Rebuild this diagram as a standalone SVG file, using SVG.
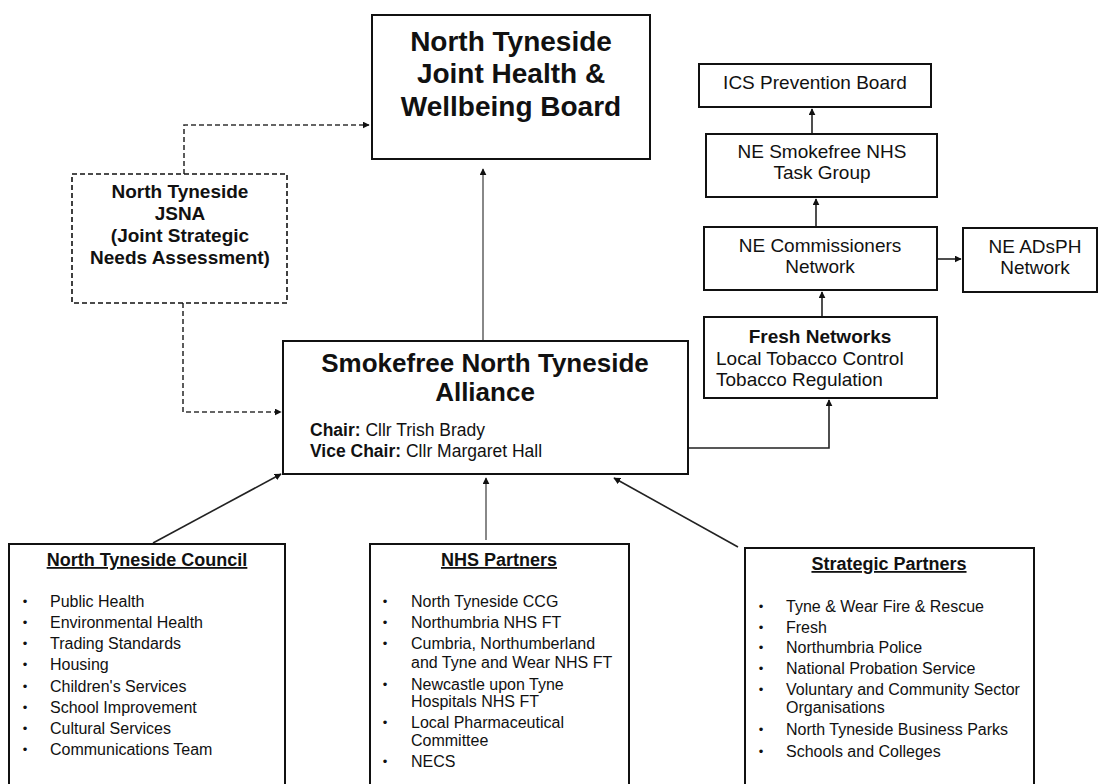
<svg xmlns="http://www.w3.org/2000/svg" width="1099" height="784" viewBox="0 0 1099 784">
<defs>
<style>
.box{fill:#fff;stroke:#111;stroke-width:2}
.dbox{fill:#fff;stroke:#111;stroke-width:1.6;stroke-dasharray:5,3}
text{font-family:"Liberation Sans",Arial,sans-serif;fill:#111}
.b{font-weight:bold}
.c{text-anchor:middle}
.t28{font-size:28px}
.t26{font-size:26px}
.t19{font-size:19px}
.t18{font-size:18px}
.t17{font-size:17.5px}
.li{font-size:16px}
.bu{font-size:13px;text-anchor:middle}
.conn{fill:none;stroke:#222;stroke-width:1.6}
.gray{fill:none;stroke:#888;stroke-width:2}
.dash{fill:none;stroke:#333;stroke-width:1.6;stroke-dasharray:5,3}
</style>
<marker id="ah" viewBox="0 0 10 10" refX="9" refY="5" markerWidth="7" markerHeight="7" markerUnits="userSpaceOnUse" orient="auto">
<path d="M0,0 L10,5 L0,10 z" fill="#111"/>
</marker>
</defs>

<g id="connectors">
<path class="gray" d="M483,341 L483,169" marker-end="url(#ah)"/>
<path class="dash" d="M184,174 L184,125 L369,125" marker-end="url(#ah)"/>
<path class="dash" d="M183,303 L183,412 L281,412" marker-end="url(#ah)"/>
<path class="conn" d="M812,134 L812,109" marker-end="url(#ah)"/>
<path class="conn" d="M816,227 L816,199" marker-end="url(#ah)"/>
<path class="conn" d="M822,317 L822,292" marker-end="url(#ah)"/>
<path class="conn" d="M937,259 L961,259" marker-end="url(#ah)"/>
<path class="conn" d="M688,448 L829,448 L829,400" marker-end="url(#ah)"/>
<path class="conn" d="M153,543 L281,474" marker-end="url(#ah)"/>
<path class="gray" d="M486,540 L486,478" marker-end="url(#ah)"/>
<path class="conn" d="M738,547 L614,478" marker-end="url(#ah)"/>
</g>

<g id="hwb">
<rect class="box" x="372" y="15" width="278" height="144"/>
<text class="b c t28" x="511" y="51">North Tyneside</text>
<text class="b c t28" x="511" y="83">Joint Health &amp;</text>
<text class="b c t28" x="511" y="116">Wellbeing Board</text>
</g>

<g id="jsna">
<rect class="dbox" x="72" y="174" width="215" height="129"/>
<text class="b c t19" x="180" y="198">North Tyneside</text>
<text class="b c t19" x="180" y="220">JSNA</text>
<text class="b c t19" x="180" y="242">(Joint Strategic</text>
<text class="b c t19" x="180" y="264">Needs Assessment)</text>
</g>

<g id="alliance">
<rect class="box" x="283" y="341" width="405" height="133"/>
<text class="b c t26" x="485" y="372">Smokefree North Tyneside</text>
<text class="b c t26" x="485" y="401">Alliance</text>
<text class="t17" x="310" y="436"><tspan class="b">Chair:</tspan> Cllr Trish Brady</text>
<text class="t17" x="310" y="457"><tspan class="b">Vice Chair:</tspan> Cllr Margaret Hall</text>
</g>

<g id="ics">
<rect class="box" x="699" y="64" width="232" height="43"/>
<text class="c t19" x="815" y="89">ICS Prevention Board</text>
</g>

<g id="taskgroup">
<rect class="box" x="706" y="134" width="231" height="63"/>
<text class="c t19" x="822" y="158">NE Smokefree NHS</text>
<text class="c t19" x="822" y="179">Task Group</text>
</g>

<g id="commissioners">
<rect class="box" x="704" y="227" width="233" height="63"/>
<text class="c t19" x="820" y="252">NE Commissioners</text>
<text class="c t19" x="820" y="273">Network</text>
</g>

<g id="adsph">
<rect class="box" x="963" y="228" width="134" height="64"/>
<text class="c t19" x="1035" y="253">NE ADsPH</text>
<text class="c t19" x="1035" y="274">Network</text>
</g>

<g id="fresh">
<rect class="box" x="704" y="317" width="233" height="81"/>
<text class="b c t19" x="820" y="343">Fresh Networks</text>
<text class="t19" x="716" y="365">Local Tobacco Control</text>
<text class="t19" x="716" y="386">Tobacco Regulation</text>
</g>

<g id="council">
<rect class="box" x="9" y="544" width="276" height="250"/>
<text class="b c t18" x="147" y="566" text-decoration="underline">North Tyneside Council</text>
<g class="bu">
<text x="25" y="606">•</text><text x="25" y="627">•</text><text x="25" y="648">•</text><text x="25" y="669">•</text>
<text x="25" y="691">•</text><text x="25" y="712">•</text><text x="25" y="733">•</text><text x="25" y="754">•</text>
</g>
<g class="li">
<text x="50" y="607">Public Health</text>
<text x="50" y="628">Environmental Health</text>
<text x="50" y="649">Trading Standards</text>
<text x="50" y="670">Housing</text>
<text x="50" y="692">Children's Services</text>
<text x="50" y="713">School Improvement</text>
<text x="50" y="734">Cultural Services</text>
<text x="50" y="755">Communications Team</text>
</g>
</g>

<g id="nhs">
<rect class="box" x="370" y="544" width="259" height="250"/>
<text class="b c t18" x="499" y="566" text-decoration="underline">NHS Partners</text>
<g class="bu">
<text x="385" y="606">•</text><text x="385" y="627">•</text><text x="385" y="648">•</text>
<text x="385" y="689">•</text><text x="385" y="727">•</text><text x="385" y="766">•</text>
</g>
<g class="li">
<text x="411" y="607">North Tyneside CCG</text>
<text x="411" y="628">Northumbria NHS FT</text>
<text x="411" y="649">Cumbria, Northumberland</text>
<text x="411" y="668">and Tyne and Wear NHS FT</text>
<text x="411" y="690">Newcastle upon Tyne</text>
<text x="411" y="707">Hospitals NHS FT</text>
<text x="411" y="728">Local Pharmaceutical</text>
<text x="411" y="746">Committee</text>
<text x="411" y="767">NECS</text>
</g>
</g>

<g id="strategic">
<rect class="box" x="745" y="548" width="289" height="246"/>
<text class="b c t18" x="889" y="570" text-decoration="underline">Strategic Partners</text>
<g class="bu">
<text x="761" y="611">•</text><text x="761" y="632">•</text><text x="761" y="652">•</text><text x="761" y="673">•</text>
<text x="761" y="694">•</text><text x="761" y="734">•</text><text x="761" y="756">•</text>
</g>
<g class="li">
<text x="786" y="612">Tyne &amp; Wear Fire &amp; Rescue</text>
<text x="786" y="633">Fresh</text>
<text x="786" y="653">Northumbria Police</text>
<text x="786" y="674">National Probation Service</text>
<text x="786" y="695">Voluntary and Community Sector</text>
<text x="786" y="713">Organisations</text>
<text x="786" y="735">North Tyneside Business Parks</text>
<text x="786" y="757">Schools and Colleges</text>
</g>
</g>
</svg>
